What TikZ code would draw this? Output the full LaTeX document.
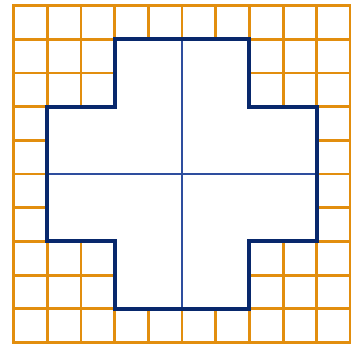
\documentclass[tikz,border=0pt]{standalone}
\definecolor{gridorange}{RGB}{226,142,14}
\definecolor{crossnavy}{RGB}{8,40,108}
\definecolor{midblue}{RGB}{46,78,158}
\begin{document}
\begin{tikzpicture}[x=33.7bp,y=-33.7bp,
  gridline/.style={draw=gridorange,line width=2.8bp,line cap=rect},
  crossline/.style={draw=crossnavy,line width=3.9bp,line join=miter},
  axisline/.style={draw=midblue,line width=1.6bp}]
\useasboundingbox (-13.5bp,5.5bp) rectangle (337.5bp,-338.5bp);
\foreach \i in {0,...,10} {
  \draw[gridline] (\i,0) -- (\i,10);
  \draw[gridline] (0,\i) -- (10,\i);
}
\fill[white] (3,1) -- (7,1) -- (7,3) -- (9,3) -- (9,7) -- (7,7) -- (7,9) -- (3,9) -- (3,7) -- (1,7) -- (1,3) -- (3,3) -- cycle;
\draw[axisline] (5,1) -- (5,9);
\draw[axisline] (1,5) -- (9,5);
\draw[crossline] (3,1) -- (7,1) -- (7,3) -- (9,3) -- (9,7) -- (7,7) -- (7,9) -- (3,9) -- (3,7) -- (1,7) -- (1,3) -- (3,3) -- cycle;
\end{tikzpicture}
\end{document}
